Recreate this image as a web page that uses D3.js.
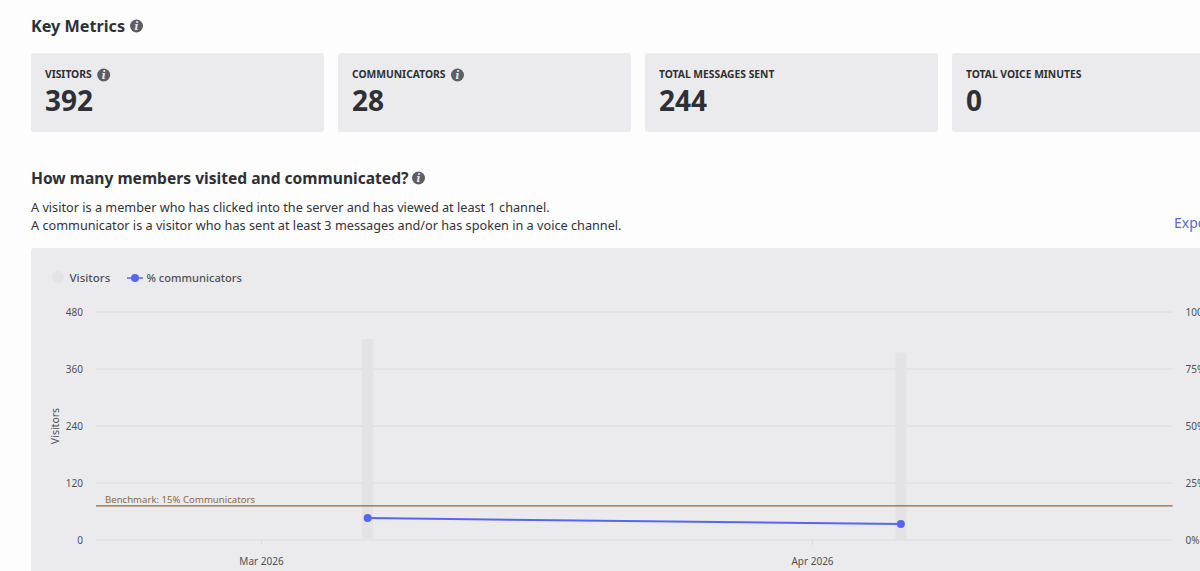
<!DOCTYPE html>
<html>
<head>
<meta charset="utf-8">
<script src="https://cdn.jsdelivr.net/npm/d3@7"></script>
<style>
  html, body { margin: 0; padding: 0; background: #fdfdfe; overflow: hidden; }
  svg { display: block; font-family: "Noto Sans", sans-serif; }
</style>
</head>
<body>
<svg id="chart" width="1200" height="571"></svg>
<script>
const statLabels = ['VISITORS', 'COMMUNICATORS', 'TOTAL MESSAGES SENT', 'TOTAL VOICE MINUTES'];
const statValues = ['392', '28', '244', '0'];
const statHasInfo = [true, true, false, false];

const dates = ['2026-03-07', '2026-04-06'];
const visitors = [423, 394];
const pctCommunicators = [9.6, 7];
const benchmark = 15;

const visitorTicks = [0, 120, 240, 360, 480];
const pctTicks = [0, 25, 50, 75, 100];
const monthTicks = ['2026-03-01', '2026-04-01'];

const descLines = [
  'A visitor is a member who has clicked into the server and has viewed at least 1 channel.',
  'A communicator is a visitor who has sent at least 3 messages and/or has spoken in a voice channel.'
];

const parseDay = d3.timeParse('%Y-%m-%d');
const formatMonth = d3.timeFormat('%b %Y');

const INK = '#2e3035', TICK = '#4e5058', PANEL = '#ebebed', GRID = '#dadce3';
const BLURPLE = '#5865f2', BAR = '#e3e3e5';

const svg = d3.select('#chart');

function infoIcon(g, cx, cy, r) {
  g.append('circle').attr('cx', cx).attr('cy', cy).attr('r', r).attr('fill', '#5c5e66');
  g.append('text').attr('x', cx).attr('y', cy + r * 0.6)
    .attr('text-anchor', 'middle').attr('fill', '#ebebed')
    .attr('font-size', r * 1.6).attr('font-weight', 700).attr('font-style', 'italic')
    .attr('font-family', '"DejaVu Serif", serif').text('i');
}

// headings
svg.append('text').attr('x', 31).attr('y', 32).attr('font-size', 16.2).attr('font-weight', 700)
  .attr('fill', INK).text('Key Metrics');
infoIcon(svg, 136.5, 26, 6.5);

// stat cards
const cardX = d3.scaleLinear().domain([0, 1]).range([31, 338]);
statLabels.forEach((label, i) => {
  const x = cardX(i);
  const g = svg.append('g');
  g.append('rect').attr('x', x).attr('y', 53).attr('width', 293).attr('height', 79)
    .attr('rx', 3).attr('fill', PANEL);
  const t = g.append('text').attr('x', x + 14).attr('y', 78).attr('font-size', 10.3)
    .attr('font-weight', 700).attr('fill', INK).text(label);
  if (statHasInfo[i]) infoIcon(g, x + 14 + t.node().getComputedTextLength() + 12, 75, 6.5);
  g.append('text').attr('x', x + 14).attr('y', 111).attr('font-size', 28)
    .attr('font-weight', 700).attr('fill', INK).text(statValues[i]);
});

svg.append('text').attr('x', 31).attr('y', 184).attr('font-size', 15.6).attr('font-weight', 700)
  .attr('fill', INK).text('How many members visited and communicated?');
infoIcon(svg, 418.5, 178, 6.5);

descLines.forEach((line, i) => {
  svg.append('text').attr('x', 31).attr('y', 212 + i * 18).attr('font-size', 12.7)
    .attr('fill', '#313338').text(line);
});

svg.append('text').attr('x', 1174).attr('y', 228).attr('font-size', 14)
  .attr('fill', '#5c67c9').text('Export');

// chart panel
svg.append('rect').attr('x', 31).attr('y', 248).attr('width', 1200).attr('height', 340)
  .attr('rx', 3).attr('fill', PANEL);

// legend
svg.append('circle').attr('cx', 58).attr('cy', 277).attr('r', 6).attr('fill', BAR);
svg.append('text').attr('x', 69.5).attr('y', 282).attr('font-size', 11.5).attr('font-weight', 500)
  .attr('fill', TICK).text('Visitors');
svg.append('line').attr('x1', 127).attr('x2', 143).attr('y1', 278).attr('y2', 278)
  .attr('stroke', BLURPLE).attr('stroke-width', 1.5);
svg.append('circle').attr('cx', 135).attr('cy', 278).attr('r', 4).attr('fill', BLURPLE);
svg.append('text').attr('x', 146.5).attr('y', 282).attr('font-size', 11.1).attr('font-weight', 500)
  .attr('fill', TICK).text('% communicators');

// scales
const plotLeft = 96, plotRight = 1172.5;
const x = d3.scaleTime().domain(monthTicks.map(parseDay)).range([261, 812]);
const yVisitors = d3.scaleLinear().domain([0, 480]).range([540, 312]);
const yPct = d3.scaleLinear().domain([0, 100]).range([540, 312]);

// gridlines
svg.append('g').selectAll('line').data(visitorTicks).join('line')
  .attr('x1', plotLeft).attr('x2', plotRight)
  .attr('y1', d => yVisitors(d)).attr('y2', d => yVisitors(d))
  .attr('stroke', GRID).attr('stroke-width', 1);

// axes
const leftAxis = svg.append('g').attr('transform', `translate(${plotLeft},0)`)
  .call(d3.axisLeft(yVisitors).tickValues(visitorTicks).tickSize(0).tickPadding(13));
const rightAxis = svg.append('g').attr('transform', `translate(${plotRight},0)`)
  .call(d3.axisRight(yPct).tickValues(pctTicks).tickFormat(d => d + '%').tickSize(0).tickPadding(13));
const bottomAxis = svg.append('g').attr('transform', 'translate(0,540)')
  .call(d3.axisBottom(x).tickValues(monthTicks.map(parseDay)).tickFormat(formatMonth).tickSize(5).tickPadding(13));
[leftAxis, rightAxis, bottomAxis].forEach(a => {
  a.select('.domain').remove();
  a.selectAll('line').attr('stroke', GRID);
  a.selectAll('text').attr('font-size', 10).attr('font-family', '"Noto Sans", sans-serif').attr('fill', TICK);
});

svg.append('text').attr('transform', 'translate(59,426) rotate(-90)')
  .attr('text-anchor', 'middle').attr('font-size', 10.5).attr('fill', TICK).text('Visitors');

// bars
const days = dates.map(parseDay);
svg.append('g').selectAll('rect').data(visitors).join('rect')
  .attr('x', (d, i) => x(days[i]) - 5.5).attr('width', 11)
  .attr('y', d => yVisitors(d)).attr('height', d => yVisitors(0) - yVisitors(d))
  .attr('rx', 1).attr('fill', BAR);

// benchmark
svg.append('line').attr('x1', plotLeft).attr('x2', plotRight)
  .attr('y1', yPct(benchmark)).attr('y2', yPct(benchmark))
  .attr('stroke', '#8a6a45').attr('stroke-width', 1.2);
svg.append('text').attr('x', 105).attr('y', 503).attr('font-size', 9.6)
  .attr('fill', '#8f6a3c').text('Benchmark: ' + benchmark + '% Communicators');

// line
const line = d3.line().x((d, i) => x(days[i])).y(d => yPct(d));
svg.append('path').datum(pctCommunicators).attr('d', line)
  .attr('fill', 'none').attr('stroke', BLURPLE).attr('stroke-width', 2);
svg.append('g').selectAll('circle').data(pctCommunicators).join('circle')
  .attr('cx', (d, i) => x(days[i])).attr('cy', d => yPct(d)).attr('r', 4).attr('fill', BLURPLE);
</script>
</body>
</html>
